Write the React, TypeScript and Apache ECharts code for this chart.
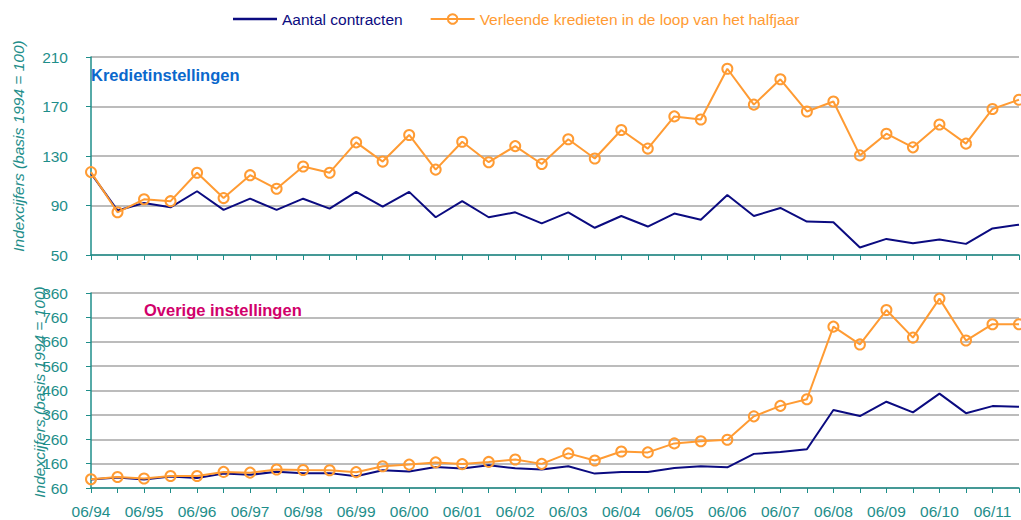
import React, { useEffect, useRef } from "react";
import * as echarts from "echarts";

const categories = [
  "06/94", "12/94", "06/95", "12/95", "06/96", "12/96", "06/97", "12/97", "06/98", "12/98",
  "06/99", "12/99", "06/00", "12/00", "06/01", "12/01", "06/02", "12/02", "06/03", "12/03",
  "06/04", "12/04", "06/05", "12/05", "06/06", "12/06", "06/07", "12/07", "06/08", "12/08",
  "06/09", "12/09", "06/10", "12/10", "06/11", "12/11",
];

const contractsBanks = [116, 86, 92, 88.5, 101.5, 86.5, 95.5, 86.5, 95.5, 87.5, 101, 89, 101, 80.5, 93.5, 80.5, 84.5, 75.5, 84.5, 72, 81.5, 73, 83.5, 78.5, 98.5, 81.5, 88, 77, 76.5, 56, 63, 59.5, 62.5, 59, 71.5, 74.5];
const creditsBanks = [117, 84.5, 95, 93.5, 116.5, 96, 114.5, 103.5, 121.5, 116.5, 141, 125.5, 147, 119, 141.5, 125, 138, 123.5, 143.5, 128, 151, 136, 162, 159.5, 200.5, 171.5, 192, 166, 174, 130.5, 148, 137, 155.5, 140, 168, 175.5];
const contractsOther = [95, 103, 95, 107, 101, 119, 114, 127, 121, 121, 108, 133, 128, 146, 140, 153, 141, 136, 149, 119, 126, 126, 142, 149, 145, 200, 208, 219, 380, 355, 414, 370, 447, 367, 396, 393];
const creditsOther = [96, 105, 99, 109, 109, 126, 123, 136, 134, 133, 125, 149, 156, 165, 158, 167, 177, 159, 202, 173, 210, 206, 243, 252, 258, 354, 397, 424, 722, 649, 790, 677, 837, 665, 732, 732];

const topTicks = [50, 90, 130, 170, 210];
const bottomTicks = [60, 160, 260, 360, 460, 560, 660, 760, 860];

const seriesNames = ["Aantal contracten", "Verleende kredieten in de loop van het halfjaar"];
const panelTitles = ["Kredietinstellingen", "Overige instellingen"];
const axisName = "Indexcijfers (basis 1994 = 100)";

const NAVY = "#0B0B80";
const ORANGE = "#FF9B33";
const TEAL = "#1E8E8A";
const FONT = "Liberation Sans, Arial, sans-serif";
const FS = 15.5;

export default function App() {
  const ref = useRef<HTMLDivElement>(null);
  useEffect(() => {
    document.body.style.margin = "0";
    const chart = echarts.init(ref.current!, null, { renderer: "svg" });
    const yAxisBase = (min: number, max: number, ticks: number[], idx: number) => ({
      type: "value",
      gridIndex: idx,
      min,
      max,
      axisLine: { show: true, lineStyle: { color: TEAL, width: 1.5 } },
      axisTick: { show: true, length: 5, lineStyle: { color: TEAL }, customValues: ticks },
      axisLabel: { color: TEAL, fontSize: FS, fontFamily: FONT, margin: 23, customValues: ticks },
      splitLine: { show: true, lineStyle: { color: "#A6A6A6", width: 1.5 } },
    });
    const xAxisBase = (idx: number, showLabel: boolean) => ({
      type: "category",
      gridIndex: idx,
      data: categories,
      boundaryGap: false,
      axisLine: { show: true, lineStyle: { color: TEAL, width: 1.5 } },
      axisTick: { show: true, interval: 0, length: 5, lineStyle: { color: TEAL } },
      axisLabel: { show: showLabel, interval: 1, color: TEAL, fontSize: FS, fontFamily: FONT, margin: 15 },
      splitLine: { show: false },
    });
    const navySeries = (data: number[], idx: number) => ({
      name: seriesNames[0],
      type: "line",
      xAxisIndex: idx,
      yAxisIndex: idx,
      data,
      symbol: "none",
      lineStyle: { color: NAVY, width: 2 },
      itemStyle: { color: NAVY },
    });
    const orangeSeries = (data: number[], idx: number) => ({
      name: seriesNames[1],
      type: "line",
      xAxisIndex: idx,
      yAxisIndex: idx,
      data,
      symbol: "circle",
      symbolSize: 10,
      showSymbol: true,
      lineStyle: { color: ORANGE, width: 2 },
      itemStyle: { color: "rgba(255,255,255,0)", borderColor: ORANGE, borderWidth: 2 },
    });
    const nameStyle = { text: axisName, fill: TEAL, fontSize: FS, fontStyle: "italic", fontFamily: FONT, align: "center", verticalAlign: "middle" };
    chart.setOption({
      animation: false,
      textStyle: { fontFamily: FONT },
      title: [
        { text: panelTitles[0], left: 86, top: 61, textStyle: { color: "#0A68CC", fontSize: 16.5, fontWeight: "bold", fontFamily: FONT } },
        { text: panelTitles[1], left: 139, top: 296, textStyle: { color: "#D1006B", fontSize: 16.5, fontWeight: "bold", fontFamily: FONT } },
      ],
      legend: {
        left: 228,
        top: 6,
        itemWidth: 44,
        itemHeight: 12,
        itemGap: 27,
        data: [
          { name: seriesNames[0], icon: "path://M0,0H44V2.4H0Z", textStyle: { color: NAVY } },
          { name: seriesNames[1], textStyle: { color: ORANGE } },
        ],
        textStyle: { fontSize: FS, fontFamily: FONT },
      },
      graphic: [
        { type: "text", x: 18, y: 146, rotation: Math.PI / 2, style: nameStyle },
        { type: "text", x: 39, y: 392, rotation: Math.PI / 2, style: nameStyle },
      ],
      grid: [
        { left: 91, right: 2, top: 57, height: 198 },
        { left: 91, right: 2, top: 293, height: 195 },
      ],
      xAxis: [xAxisBase(0, false), xAxisBase(1, true)],
      yAxis: [yAxisBase(50, 210, topTicks, 0), yAxisBase(60, 860, bottomTicks, 1)],
      series: [
        navySeries(contractsBanks, 0),
        orangeSeries(creditsBanks, 0),
        navySeries(contractsOther, 1),
        orangeSeries(creditsOther, 1),
      ],
    });
    return () => chart.dispose();
  }, []);
  return <div ref={ref} style={{ width: 1021, height: 520 }} />;
}
